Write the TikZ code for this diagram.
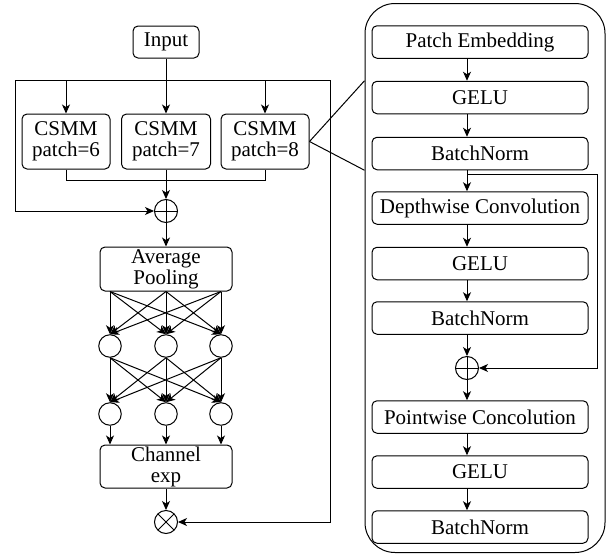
\documentclass[tikz,border=0pt]{standalone}
\usepackage{fontspec}
\setmainfont{Liberation Serif}
\newfontfamily\diagfont{Liberation Serif}
\usetikzlibrary{arrows.meta, positioning, calc}

\begin{document}
\begin{tikzpicture}[
  x=1pt, y=-1pt,
  every node/.style={align=center, font=\diagfont\fontsize{21}{21}\selectfont},
  box/.style={rectangle, rounded corners=5pt, draw, line width=1pt, inner sep=0pt},
  stagebox/.style={box, minimum width=216pt, minimum height=32.5pt},
  neuron/.style={circle, draw, line width=1pt, minimum size=22.5pt, inner sep=0pt},
  addnode/.style={circle, draw, line width=1pt, minimum size=23pt, inner sep=0pt,
    path picture={\draw[line width=1pt]
      (path picture bounding box.north) -- (path picture bounding box.south)
      (path picture bounding box.west) -- (path picture bounding box.east);}},
  mulnode/.style={circle, draw, line width=1pt, minimum size=23pt, inner sep=0pt,
    path picture={\draw[line width=1pt]
      (path picture bounding box.north west) -- (path picture bounding box.south east)
      (path picture bounding box.south west) -- (path picture bounding box.north east);}},
  >={Stealth[length=9pt, width=8pt, inset=2.5pt]}, line width=1pt
]
\useasboundingbox (0,0) rectangle (606,555);

% Left branch: input and the three CSMM blocks
\node (input) [box, minimum width=66pt, minimum height=32pt] at (166, 42) {Input};

\node (csmma) [box, minimum width=88pt, minimum height=55pt] at (66, 141.5)
  {CSMM\\patch=6};
\node (csmmb) [box, minimum width=89pt, minimum height=55pt] at (166, 141.5)
  {CSMM\\patch=7};
\node (csmmc) [box, minimum width=88pt, minimum height=55pt] at (265, 141.5)
  {CSMM\\patch=8};

\node (addop) [addnode] at (166, 211) {};

\node (pool) [box, minimum width=132pt, minimum height=44pt] at (166, 269)
  {Average\\Pooling};

% Two small fully connected layers
\node (ha) [neuron] at (110, 346) {};
\node (hb) [neuron] at (166, 346) {};
\node (hc) [neuron] at (221, 346) {};
\node (oa) [neuron] at (110, 414) {};
\node (ob) [neuron] at (166, 414) {};
\node (oc) [neuron] at (221, 414) {};

\node (chan) [box, minimum width=132pt, minimum height=43pt] at (166, 466.5)
  {Channel\\exp};

\node (mulop) [mulnode] at (166, 522) {};

% Right panel: inside of one CSMM block
\node (panel) [draw, rounded corners=30pt, minimum width=240pt, minimum height=549pt,
  inner sep=0pt] at (485, 278) {};

\node (pe)    [stagebox] at (480, 42)    {Patch Embedding};
\node (gelua) [stagebox] at (480, 97.5)  {GELU};
\node (bna)   [stagebox] at (480, 153.5) {BatchNorm};
\node (dw)    [stagebox] at (480, 208)   {Depthwise Convolution};
\node (gelub) [stagebox] at (480, 263.5) {GELU};
\node (bnb)   [stagebox] at (480, 318)   {BatchNorm};
\node (addr)  [addnode]  at (467, 368)   {};
\node (pw)    [stagebox] at (480, 417)   {Pointwise Concolution};
\node (geluc) [stagebox] at (480, 472)   {GELU};
\node (bnc)   [stagebox] at (480, 527)   {BatchNorm};

% helper points
\coordinate (loopl) at (15, 80);
\coordinate (loopr) at (330, 80);
\coordinate (join) at (166, 180);
\coordinate (col) at (467, 0);
\coordinate (skipx) at (597, 0);
\coordinate (branch) at ($(col |- bna.south)+(0,4)$);

% Outer loop and CSMM inputs
\draw[->] (loopr) -- (loopl) |- (addop.west);
\draw[->] (loopr) |- (mulop.east);
\draw[->] (input.south) -- (csmmb.north);
\draw[->] (csmma.north |- loopl) -- (csmma.north);
\draw[->] (csmmc.north |- loopl) -- (csmmc.north);

% CSMM outputs joined and summed
\draw (csmma.south) -- (csmma.south |- join) -- (csmmc.south |- join) -- (csmmc.south);
\draw[->] (csmmb.south) -- (addop.north);
\draw[->] (addop.south) -- (pool.north);

% Fully connected arrows
\path[every edge/.style={draw, ->}]
  (ha |- pool.south) edge (ha.north) edge (hb.north) edge (hc.north)
  (hb |- pool.south) edge (ha.north) edge (hb.north) edge (hc.north)
  (hc |- pool.south) edge (ha.north) edge (hb.north) edge (hc.north)
  (ha.south) edge (oa.north) edge (ob.north) edge (oc.north)
  (hb.south) edge (oa.north) edge (ob.north) edge (oc.north)
  (hc.south) edge (oa.north) edge (ob.north) edge (oc.north);
\draw[->] (oa.south) -- (oa.south |- chan.north);
\draw[->] (ob.south) -- (chan.north);
\draw[->] (oc.south) -- (oc.south |- chan.north);
\draw[->] (chan.south) -- (mulop.north);

% Zoom lines to the panel
\draw (csmmc.east) -- (panel.west |- gelua.north);
\draw (csmmc.east) -- (panel.west |- bna.south);

% Panel arrows
\draw[->] (col |- pe.south) -- (col |- gelua.north);
\draw[->] (col |- gelua.south) -- (col |- bna.north);
\draw[->] (col |- bna.south) -- (col |- dw.north);
\draw[->] (col |- dw.south) -- (col |- gelub.north);
\draw[->] (col |- gelub.south) -- (col |- bnb.north);
\draw[->] (col |- bnb.south) -- (addr.north);
\draw[->] (addr.south) -- (col |- pw.north);
\draw[->] (col |- pw.south) -- (col |- geluc.north);
\draw[->] (col |- geluc.south) -- (col |- bnc.north);
\draw[->] (branch) -- (skipx |- branch) -- (skipx |- addr) -- (addr.east);

\end{tikzpicture}
\end{document}
